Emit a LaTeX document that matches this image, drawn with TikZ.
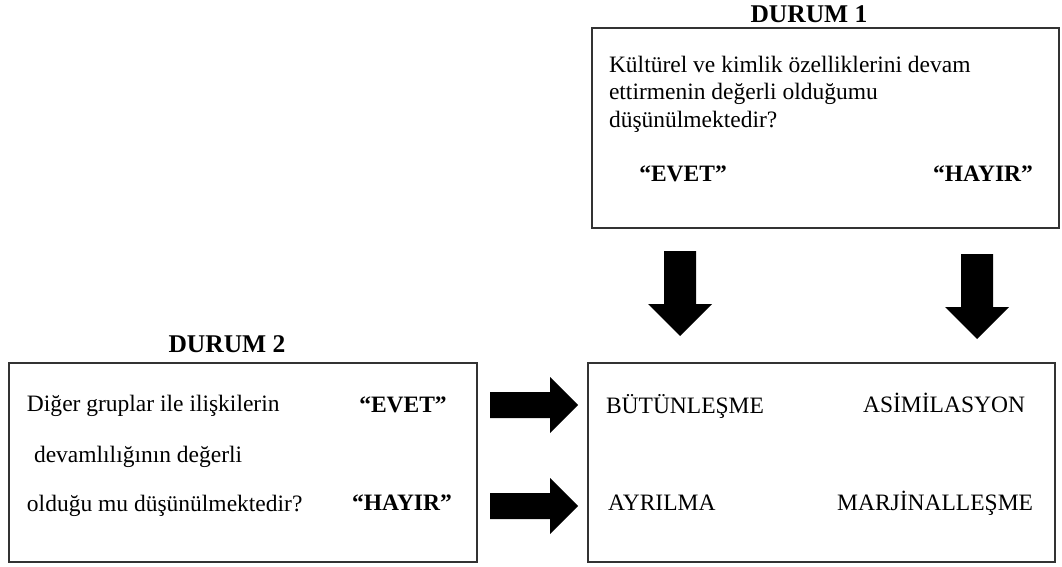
\documentclass[tikz,border=0pt]{standalone}
\usepackage{fontspec}
\setmainfont{Liberation Serif}
\newcommand{\arrdown}[1]{\fill[blockarrow, shift={(#1)}] (-16,0) -- (16,0) -- (16,53) -- (32,53) -- (0,85) -- (-32,53) -- (-16,53) -- cycle;}
\newcommand{\arrright}[1]{\fill[blockarrow, shift={(#1)}] (0,-13) -- (60,-13) -- (60,-28) -- (88,0) -- (60,28) -- (60,13) -- (0,13) -- cycle;}
\begin{document}
\begin{tikzpicture}[x=1pt,y=-1pt,
  frame/.style={draw=black!80, line width=1.4pt, inner sep=0pt, outer sep=0pt},
  txt/.style={inner sep=0pt, outer sep=0pt, font=\fontsize{23.5}{27}\selectfont},
  btxt/.style={inner sep=0pt, outer sep=0pt, font=\fontsize{23.5}{27}\selectfont\bfseries},
  ttl/.style={inner sep=0pt, outer sep=0pt, font=\fontsize{25.5}{30}\selectfont\bfseries},
  blockarrow/.style={fill=black}]
\useasboundingbox (0,0) rectangle (1062,567);
\fill[white] (0,0) rectangle (1062,567);

% DURUM 1
\node[ttl, anchor=base] (t1) at (809,23) {DURUM 1};
\node[frame, minimum width=467pt, minimum height=200pt] (box1) at (825.5,128) {};
\node[txt, anchor=base west] (q1a) at (609,73) {Kültürel ve kimlik özelliklerini devam};
\node[txt, anchor=base west] (q1b) at (609,100) {ettirmenin değerli olduğumu};
\node[txt, anchor=base west] (q1c) at (609,128) {düşünülmektedir?};
\node[btxt, anchor=base] (e1) at (683,181) {“EVET”};
\node[btxt, anchor=base] (h1) at (983,181) {“HAYIR”};

% DURUM 2
\node[ttl, anchor=base] (t2) at (227,352) {DURUM 2};
\node[frame, minimum width=468pt, minimum height=199pt] (box2) at (243,462.5) {};
\node[txt, anchor=base west] (q2a) at (27,411) {Diğer gruplar ile ilişkilerin};
\node[txt, anchor=base west] (q2b) at (34,462) {devamlılığının değerli};
\node[txt, anchor=base west] (q2c) at (27,511) {olduğu mu düşünülmektedir?};
\node[btxt, anchor=base] (e2) at (403,412) {“EVET”};
\node[btxt, anchor=base] (h2) at (402,510) {“HAYIR”};

% Result box
\node[frame, minimum width=467pt, minimum height=199pt] (box3) at (821.5,462.5) {};
\node[txt, anchor=base west] (r1) at (606,413) {BÜTÜNLEŞME};
\node[txt, anchor=base east] (r2) at (1025,412) {ASİMİLASYON};
\node[txt, anchor=base west] (r3) at (608,510) {AYRILMA};
\node[txt, anchor=base east] (r4) at (1033,510) {MARJİNALLEŞME};

% block arrows
\coordinate (a1) at (680,251);
\coordinate (a2) at (977,254);
\coordinate (a3) at (490,405);
\coordinate (a4) at (490,506);
\arrdown{a1}
\arrdown{a2}
\arrright{a3}
\arrright{a4}
\end{tikzpicture}
\end{document}
